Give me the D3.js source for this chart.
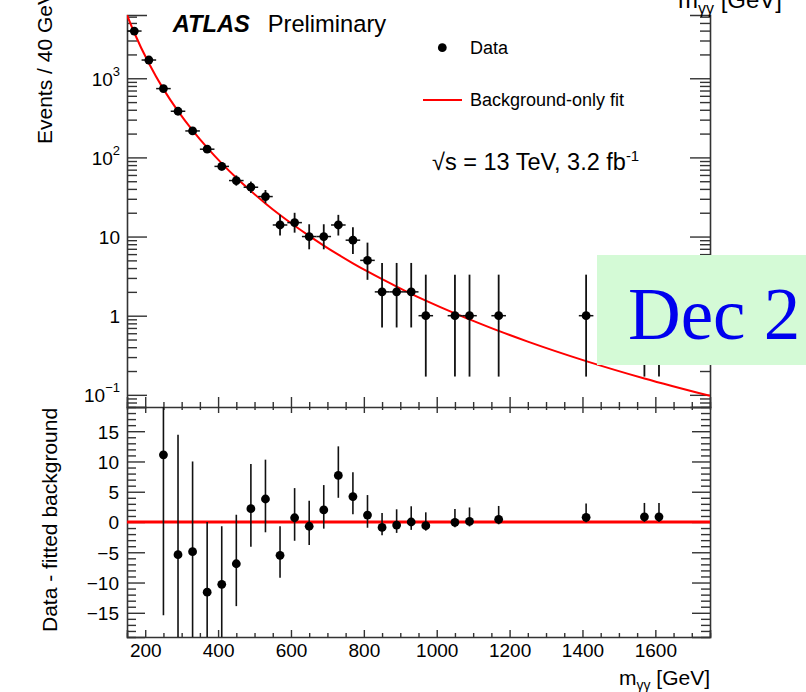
<!DOCTYPE html>
<html>
<head>
<meta charset="utf-8">
<script src="https://cdn.jsdelivr.net/npm/d3@7"></script>
<style>
  html, body { margin: 0; padding: 0; background: #fff; }
  svg { display: block; }
</style>
</head>
<body>
<svg id="chart" width="806" height="692"></svg>
<script>
// ---------------- data ----------------
const massBins = [170,210,250,290,330,370,410,450,490,530,570,610,650,690,730,770,810,850,890,930,970,1050,1090,1170,1410,1570,1610];
const counts   = [3950,1700,740,383,216,127,77,51,42,32,14,15,10,10,14,9,5,2,2,2,1,1,1,1,1,1,1];
const countErrLow  = [62.8,41.2,27.2,19.6,14.7,11.3,8.8,7.1,6.5,5.6,3.7,3.8,3.1,3.1,3.7,2.96,2.16,1.29,1.29,1.29,0.83,0.83,0.83,0.83,0.83,0.83,0.83];
const countErrHigh = [63.9,42.2,28.2,20.6,15.7,12.3,9.8,8.2,7.5,6.7,4.8,4.96,4.3,4.3,4.8,4.1,3.38,2.64,2.64,2.64,2.3,2.3,2.3,2.3,2.3,2.3,2.3];
const binHalfWidth = 20;

const fitMass   = [150,170,210,250,290,330,370,410,450,490,530,570,610,650,690,730,770,810,850,890,930,970,1050,1090,1170,1250,1410,1570,1750];
const fitValues = [6310,3760,1545,729,385,220,133,84.1,55.3,37.6,26.2,18.7,13.7,10.2,7.69,5.90,4.59,3.62,2.89,2.33,1.89,1.55,1.07,0.90,0.643,0.471,0.267,0.161,0.097];

const resMass     = [250,290,330,370,410,450,490,530,570,610,650,690,730,770,810,850,890,930,970,1050,1090,1170,1410,1570,1610];
const residuals   = [11.1,-5.4,-4.9,-11.6,-10.3,-6.9,2.2,3.8,-5.5,0.7,-0.7,2.0,7.7,4.2,1.15,-0.9,-0.5,0.0,-0.6,-0.05,0.1,0.45,0.77,0.85,0.85];
const resErrLow   = [26.5,19.6,14.7,11.3,9.5,7.0,6.3,5.5,3.7,3.8,3.1,3.1,3.7,2.9,2.1,1.3,1.3,1.3,0.83,0.83,0.83,0.83,0.83,0.83,0.83];
const resErrHigh  = [27.5,19.8,14.9,11.6,9.6,8.1,7.4,6.5,4.8,4.9,4.2,4.1,4.8,4.0,3.3,2.4,2.6,2.6,2.2,2.2,2.3,2.2,2.3,2.3,2.3];

const massTicks = [200,400,600,800,1000,1200,1400,1600];
const logTickValues = [0.1,1,10,100,1000];
const logTickLabels = [["10","−1"],["1",""],["10",""],["10","2"],["10","3"]];
const resTicks = [-15,-10,-5,0,5,10,15];

// ---------------- layout ----------------
const SANS = "'Liberation Sans', Arial, Helvetica, sans-serif";
const svg = d3.select("#chart").attr("font-family", SANS);
const L = 127, R = 710, T = 15, MID = 407, B = 637;
const axisColor = "#333";

const x = d3.scaleLinear().domain([150,1750]).range([L,R]);
const yTop = d3.scaleLog().domain([0.0702,6300]).range([MID,T]);
const yBot = d3.scaleLinear().domain([-19,19]).range([B,MID]);

const defs = svg.append("defs");
defs.append("clipPath").attr("id","clipTop").append("rect")
  .attr("x",L).attr("y",T).attr("width",R-L).attr("height",MID-T);
defs.append("clipPath").attr("id","clipBot").append("rect")
  .attr("x",L).attr("y",MID).attr("width",R-L).attr("height",B-MID);

function styleAxis(g){
  g.attr("font-family", SANS);
  g.selectAll("path.domain").attr("stroke",axisColor).attr("stroke-width",1.6);
  g.selectAll(".tick line").attr("stroke",axisColor).attr("stroke-width",1.4);
  g.selectAll("text").attr("font-family",SANS).attr("fill","#000");
}

// minor tick values
const logMinor = yTop.ticks().filter(v => Math.abs(Math.log10(v) - Math.round(Math.log10(v))) > 1e-6);
const massMinor = d3.range(150, 1751, 50).filter(v => v % 200 !== 0);
const resMinor = d3.range(-19, 20, 1).filter(v => v % 5 !== 0);

// ---------- upper panel axes ----------
const gTL = svg.append("g").attr("transform",`translate(${L},0)`)
  .call(d3.axisLeft(yTop).tickValues(logTickValues).tickSize(-20).tickPadding(8).tickFormat(""));
styleAxis(gTL);
gTL.selectAll(".tick text").remove();
gTL.selectAll(".tick").each(function(d,i){
  const lab = logTickLabels[i];
  const t = d3.select(this).append("text")
    .attr("x",-7).attr("y",0).attr("dy","0.36em").attr("font-family",SANS)
    .attr("text-anchor","end").attr("font-size",19).attr("fill","#000");
  t.append("tspan").text(lab[0]);
  if (lab[1]) t.append("tspan").attr("font-size",13).attr("dy","-0.75em").text(lab[1]);
});
styleAxis(svg.append("g").attr("transform",`translate(${L},0)`)
  .call(d3.axisLeft(yTop).tickValues(logMinor).tickSize(-10).tickFormat(""))
  .call(g=>g.select(".domain").remove()));
styleAxis(svg.append("g").attr("transform",`translate(${R},0)`)
  .call(d3.axisRight(yTop).tickValues(logTickValues).tickSize(-20).tickFormat("")));
styleAxis(svg.append("g").attr("transform",`translate(${R},0)`)
  .call(d3.axisRight(yTop).tickValues(logMinor).tickSize(-10).tickFormat(""))
  .call(g=>g.select(".domain").remove()));
styleAxis(svg.append("g").attr("transform",`translate(0,${MID})`)
  .call(d3.axisBottom(x).tickValues(massTicks).tickSize(-10).tickFormat("")));
styleAxis(svg.append("g").attr("transform",`translate(0,${MID})`)
  .call(d3.axisBottom(x).tickValues(massMinor).tickSize(-5).tickFormat(""))
  .call(g=>g.select(".domain").remove()));

// ---------- lower panel axes ----------
styleAxis(svg.append("g").attr("transform",`translate(0,${MID})`)
  .call(d3.axisTop(x).tickValues(massTicks).tickSize(-6).tickFormat(""))
  .call(g=>g.select(".domain").remove()));
styleAxis(svg.append("g").attr("transform",`translate(0,${MID})`)
  .call(d3.axisTop(x).tickValues(massMinor).tickSize(-3).tickFormat(""))
  .call(g=>g.select(".domain").remove()));
const gBB = svg.append("g").attr("transform",`translate(0,${B})`)
  .call(d3.axisBottom(x).tickValues(massTicks).tickSize(-7).tickPadding(0).tickFormat(d3.format("d")));
styleAxis(gBB);
gBB.selectAll(".tick text").attr("y",20).attr("dy",0).attr("font-size",19);
styleAxis(svg.append("g").attr("transform",`translate(0,${B})`)
  .call(d3.axisBottom(x).tickValues(massMinor).tickSize(-4).tickFormat(""))
  .call(g=>g.select(".domain").remove()));
const gBL = svg.append("g").attr("transform",`translate(${L},0)`)
  .call(d3.axisLeft(yBot).tickValues(resTicks).tickSize(-18).tickPadding(8));
styleAxis(gBL);
gBL.selectAll(".tick text").attr("x",-8).attr("font-size",19).attr("dy","0.36em");
styleAxis(svg.append("g").attr("transform",`translate(${L},0)`)
  .call(d3.axisLeft(yBot).tickValues(resMinor).tickSize(-9).tickFormat(""))
  .call(g=>g.select(".domain").remove()));
styleAxis(svg.append("g").attr("transform",`translate(${R},0)`)
  .call(d3.axisRight(yBot).tickValues(resTicks).tickSize(-18).tickFormat("")));
styleAxis(svg.append("g").attr("transform",`translate(${R},0)`)
  .call(d3.axisRight(yBot).tickValues(resMinor).tickSize(-9).tickFormat(""))
  .call(g=>g.select(".domain").remove()));

// ---------- upper panel content ----------
const topPanel = svg.append("g").attr("clip-path","url(#clipTop)");
const fitData = fitMass.map((m,i)=>({m, f: fitValues[i]}));
topPanel.append("path").datum(fitData)
  .attr("fill","none").attr("stroke","#ff0000").attr("stroke-width",2)
  .attr("d", d3.line().x(d=>x(d.m)).y(d=>yTop(d.f)).curve(d3.curveMonotoneX));

const pts = massBins.map((m,i)=>({m, n: counts[i], lo: counts[i]-countErrLow[i], hi: counts[i]+countErrHigh[i]}));
const gp = topPanel.append("g");
gp.selectAll("line.v").data(pts).join("line").attr("class","v")
  .attr("x1",d=>x(d.m)).attr("x2",d=>x(d.m))
  .attr("y1",d=>yTop(d.lo)).attr("y2",d=>yTop(d.hi))
  .attr("stroke","#111").attr("stroke-width",1.8);
gp.selectAll("line.h").data(pts).join("line").attr("class","h")
  .attr("x1",d=>x(d.m-binHalfWidth)).attr("x2",d=>x(d.m+binHalfWidth))
  .attr("y1",d=>yTop(d.n)).attr("y2",d=>yTop(d.n))
  .attr("stroke","#111").attr("stroke-width",1.5);
gp.selectAll("circle").data(pts).join("circle")
  .attr("cx",d=>x(d.m)).attr("cy",d=>yTop(d.n)).attr("r",4.4).attr("fill","#000");

// ---------- lower panel content ----------
const botPanel = svg.append("g").attr("clip-path","url(#clipBot)");
botPanel.append("line")
  .attr("x1",x(150)).attr("x2",x(1750)).attr("y1",yBot(0)).attr("y2",yBot(0))
  .attr("stroke","#ff0000").attr("stroke-width",3);
const rp = resMass.map((m,i)=>({m, r: residuals[i], lo: residuals[i]-resErrLow[i], hi: residuals[i]+resErrHigh[i]}));
botPanel.selectAll("line.v").data(rp).join("line").attr("class","v")
  .attr("x1",d=>x(d.m)).attr("x2",d=>x(d.m))
  .attr("y1",d=>yBot(d.lo)).attr("y2",d=>yBot(d.hi))
  .attr("stroke","#111").attr("stroke-width",1.6);
botPanel.selectAll("circle").data(rp).join("circle")
  .attr("cx",d=>x(d.m)).attr("cy",d=>yBot(d.r)).attr("r",4.4).attr("fill","#000");

// ---------- titles ----------
svg.append("text").attr("transform","translate(51.5,144) rotate(-90)")
  .attr("font-size",21).attr("fill","#000").text("Events / 40 GeV");
svg.append("text").attr("transform","translate(56.5,632) rotate(-90)")
  .attr("font-size",21).attr("fill","#000").text("Data - fitted background");

const xt = svg.append("text").attr("x",R).attr("y",685).attr("text-anchor","end")
  .attr("font-size",21).attr("fill","#000");
xt.append("tspan").text("m");
xt.append("tspan").attr("font-size",14).attr("dy",5).text("γγ");
xt.append("tspan").attr("dy",-5).text(" [GeV]");

const xt2 = svg.append("text").attr("x",782).attr("y",8).attr("text-anchor","end")
  .attr("font-size",24).attr("fill","#000");
xt2.append("tspan").text("m");
xt2.append("tspan").attr("font-size",16).attr("dy",6).text("γγ");
xt2.append("tspan").attr("dy",-6).text(" [GeV]");

svg.append("text").attr("x",172.7).attr("y",32.3).attr("font-size",23.7)
  .attr("font-weight","bold").attr("font-style","italic").attr("fill","#000").text("ATLAS");
svg.append("text").attr("x",267.7).attr("y",32.3).attr("font-size",23.7)
  .attr("fill","#000").text("Preliminary");

svg.append("circle").attr("cx",442.3).attr("cy",47.7).attr("r",4.4).attr("fill","#000");
svg.append("text").attr("x",470).attr("y",53.5).attr("font-size",18).attr("fill","#000").text("Data");
svg.append("line").attr("x1",423).attr("x2",462).attr("y1",100).attr("y2",100)
  .attr("stroke","#ff0000").attr("stroke-width",2);
svg.append("text").attr("x",470).attr("y",105.5).attr("font-size",18).attr("fill","#000").text("Background-only fit");

const en = svg.append("text").attr("x",432).attr("y",170).attr("font-size",23.5).attr("fill","#000");
en.append("tspan").text("√s = 13 TeV, 3.2 fb");
en.append("tspan").attr("font-size",15).attr("dy",-9).text("-1");

svg.append("rect").attr("x",597).attr("y",255).attr("width",215).attr("height",110).attr("fill","#d4fad6");
svg.append("text").attr("x",628).attr("y",339).attr("font-size",73)
  .attr("font-family","'Liberation Serif', 'Times New Roman', serif")
  .style("font-family","'Liberation Serif', 'Times New Roman', serif")
  .attr("fill","#0000ee").text("Dec 2");
</script>
</body>
</html>
